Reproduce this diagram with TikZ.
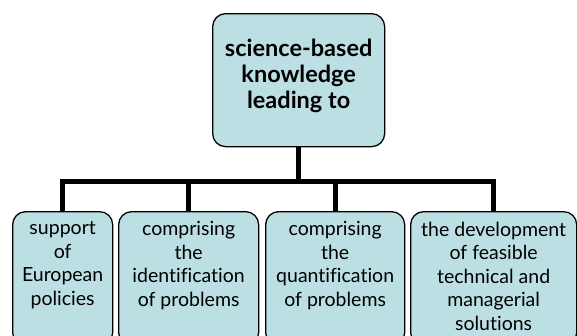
\documentclass[tikz,border=0pt]{standalone}
\usepackage{fontspec}
\setmainfont{Lato}[Ligatures=NoCommon]
\definecolor{boxfill}{HTML}{BBDFE2}
\begin{document}
\begin{tikzpicture}[x=1pt,y=-1pt,
  box/.style={draw=black, line width=1.3pt, fill=boxfill, rounded corners=13pt, inner sep=0pt, anchor=north west},
  conn/.style={draw=black, line width=5pt, line join=miter}]
\useasboundingbox (0,0) rectangle (577,335);
\begin{scope}
\clip (0,0) rectangle (577,335);
\node[box] (top) at (212,13) {\parbox[c][133pt][t]{172pt}{\centering\fontsize{23.5}{26}\selectfont\bfseries\vspace*{25pt}science-based\\knowledge\\leading to}};
\node[box] (b1) at (12,211) {\parbox[c][134pt][t]{100pt}{\centering\fontsize{19.5}{23.5}\selectfont\vspace*{10pt}support\\of\\European\\policies}};
\node[box] (b2) at (118,211) {\parbox[c][134pt][t]{140pt}{\centering\fontsize{19.5}{23.5}\selectfont\vspace*{10pt}comprising\\the\\identification\\of problems}};
\node[box] (b3) at (265,211) {\parbox[c][134pt][t]{139pt}{\centering\fontsize{19.5}{23.5}\selectfont\vspace*{10pt}comprising\\the\\quantification\\of problems}};
\node[box] (b4) at (410,211) {\parbox[c][134pt][t]{166pt}{\centering\fontsize{19.5}{23.5}\selectfont\vspace*{10pt}the development\\of feasible\\technical and\\managerial\\solutions}};
\coordinate (j) at (297,181);
\draw[conn] (top.south) -- (top.south |- j);
\draw[conn] (b1.north) |- (j -| b4.north) -- (b4.north);
\draw[conn] (b2.north) -- (b2.north |- j);
\draw[conn] (b3.north) -- (b3.north |- j);
\end{scope}
\end{tikzpicture}
\end{document}
